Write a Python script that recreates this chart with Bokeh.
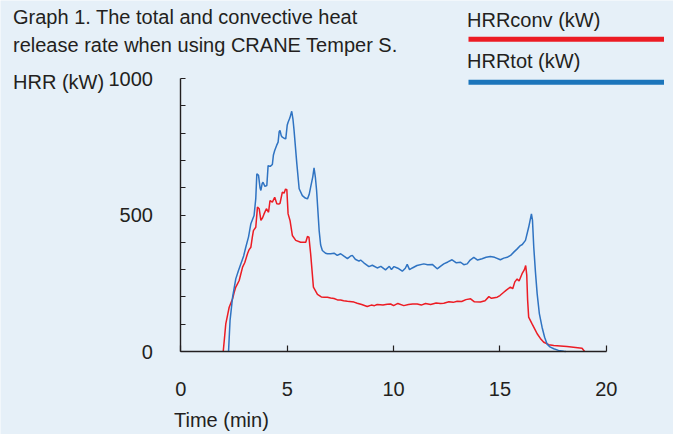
from bokeh.plotting import figure
from bokeh.models import FixedTicker, Label, Arrow
from bokeh.embed import file_html
from bokeh.resources import INLINE

# ---------------- data ----------------
time_tot = [2.24, 2.31, 2.43, 2.58, 2.70, 2.82, 2.95, 3.05, 3.18, 3.29, 3.44, 3.52, 3.57, 3.65, 3.72,
            3.76, 3.82, 3.86, 3.95, 4.04, 4.10, 4.20, 4.30, 4.35, 4.41, 4.50, 4.57, 4.62, 4.66, 4.72,
            4.77, 4.88, 4.93, 5.00, 5.04, 5.12, 5.21, 5.27, 5.32, 5.45, 5.56, 5.71, 5.85, 5.95, 6.03,
            6.10, 6.20, 6.26, 6.32, 6.38, 6.50, 6.57, 6.65, 6.80, 6.89, 7.04, 7.20, 7.35, 7.51, 7.65,
            7.83, 7.98, 8.06, 8.20, 8.37, 8.45, 8.60, 8.84, 9.00, 9.23, 9.40, 9.62, 9.80, 9.90, 10.02,
            10.20, 10.41, 10.55, 10.64, 10.75, 10.88, 11.10, 11.42, 11.60, 11.82, 12.05, 12.20, 12.36,
            12.55, 12.75, 12.95, 13.15, 13.30, 13.46, 13.60, 13.77, 13.95, 14.16, 14.35, 14.55, 14.75,
            15.02, 15.18, 15.34, 15.50, 15.65, 15.80, 15.96, 16.05, 16.20, 16.35, 16.48, 16.53, 16.59,
            16.67, 16.75, 16.85, 16.98, 17.10, 17.21, 17.35, 17.53, 17.75, 18.00, 18.10]
hrr_tot = [0, 113, 199, 266, 295, 321, 350, 382, 420, 468, 498, 560, 651, 645, 600,
           590, 615, 620, 605, 608, 681, 678, 685, 720, 736, 755, 767, 805, 810, 790,
           785, 780, 779, 830, 840, 855, 880, 850, 810, 688, 596, 571, 562, 559, 575,
           602, 640, 673, 640, 590, 443, 390, 370, 360, 358, 358, 360, 352, 358, 350,
           340, 350, 352, 338, 331, 335, 325, 311, 316, 306, 312, 299, 312, 300, 311,
           305, 294, 305, 319, 300, 306, 315, 321, 318, 319, 303, 312, 321,
           328, 336, 325, 327, 318, 321, 335, 345, 335, 340, 345, 348, 345,
           336, 342, 345, 352, 364, 375, 388, 392, 407, 455, 504, 480, 382,
           290, 211, 140, 89, 52, 28, 17, 10, 4, 1, 0]

time_conv = [1.99, 2.05, 2.11, 2.27, 2.43, 2.50, 2.58, 2.66, 2.74, 2.82, 2.90, 3.00, 3.13, 3.20, 3.29,
             3.36, 3.41, 3.52, 3.60, 3.68, 3.76, 3.84, 3.91, 4.02, 4.12, 4.19, 4.30, 4.41, 4.51, 4.60,
             4.66, 4.77, 4.85, 4.92, 4.98, 5.04, 5.13, 5.24, 5.40, 5.63, 5.87, 5.95, 6.02, 6.10, 6.23,
             6.42, 6.60, 6.73, 6.89, 7.04, 7.20, 7.36, 7.51, 7.65, 7.83, 8.14, 8.29, 8.50, 8.76, 8.95,
             9.10, 9.23, 9.50, 9.70, 9.86, 10.00, 10.20, 10.48, 10.70, 10.90, 11.11, 11.30, 11.50, 11.74,
             12.00, 12.20, 12.36, 12.60, 12.80, 12.99, 13.20, 13.40, 13.62, 13.80, 14.08, 14.30, 14.48,
             14.60, 14.87, 15.00, 15.18, 15.30, 15.49, 15.60, 15.70, 15.81, 15.90, 16.04, 16.15, 16.21,
             16.26, 16.30, 16.35, 16.51, 16.62, 16.75, 16.90, 17.06, 17.30, 17.53, 18.15, 18.86, 18.98]
hrr_conv = [0, 50, 101, 162, 193, 215, 236, 248, 260, 285, 309, 325, 358, 372, 382,
            420, 443, 455, 529, 523, 480, 490, 504, 523, 510, 553, 547, 565, 541, 540,
            543, 584, 580, 595, 593, 504, 480, 425, 407, 400, 400, 421, 419, 358, 236,
            209, 200, 199, 199, 196, 194, 189, 189, 186, 184, 181, 177, 172, 165, 170,
            168, 172, 170, 173, 174, 168, 176, 168, 172, 174, 174, 170, 176, 172,
            178, 176, 177, 182, 180, 184, 183, 190, 193, 182, 181, 186, 201,
            195, 199, 205, 217, 225, 236, 230, 255, 266, 258, 285, 300, 315,
            280, 190, 126, 101, 85, 65, 48, 34, 25, 22, 18, 12, 0]

x_ticks = [0, 5, 10, 15, 20]
y_ticks = [0, 500, 1000]
y_minor_ticks = [100, 200, 300, 400, 600, 700, 800, 900]

title_lines = ["Graph 1. The total and convective heat",
               "release rate when using CRANE Temper S."]
y_title = "HRR (kW)"
x_title = "Time (min)"
series_names = ["HRRconv (kW)", "HRRtot (kW)"]

# ---------------- style / layout ----------------
BG = "#e6f0f8"
INK = "#231f20"
RED = "#ec1c24"
BLUE = "#2f73c2"
BLUE_LEG = "#1b75bb"
FONT = "Liberation Sans"
FS = "20px"
BASE_SHIFT = 7.5   # compensation for label baseline rendering

W, H = 673, 434
# pixel position of data origin and pixel scale
OX, SX = 180.4, 21.27      # px of t=0, px per minute
OY, SY = 351.0, 0.273      # px of HRR=0, px per kW


def dx(px):
    return (px - OX) / SX


def dy(py):
    return (OY - py) / SY


p = figure(width=W, height=H, x_range=(dx(0), dx(W)), y_range=(dy(H), dy(0)),
           output_backend="svg", toolbar_location=None,
           min_border_left=0, min_border_right=0,
           min_border_top=0, min_border_bottom=0)
p.background_fill_color = BG
p.border_fill_color = BG
p.outline_line_color = None
p.xgrid.visible = False
p.ygrid.visible = False

p.xaxis.fixed_location = 0
p.yaxis.fixed_location = 0
p.xaxis.bounds = (x_ticks[0], x_ticks[-1])
p.yaxis.bounds = (y_ticks[0], y_ticks[-1])
p.xaxis.ticker = FixedTicker(ticks=x_ticks)
p.yaxis.ticker = FixedTicker(ticks=y_ticks, minor_ticks=y_minor_ticks)
for ax in (p.xaxis, p.yaxis):
    ax.axis_line_color = INK
    ax.axis_line_width = 1.4
    ax.major_tick_line_color = INK
    ax.major_tick_line_width = 1.2
    ax.major_tick_out = 0
    ax.major_label_text_font = FONT
    ax.major_label_text_font_size = FS
    ax.major_label_text_color = INK
p.xaxis.major_tick_in = 6
p.xaxis.minor_tick_line_color = None
p.xaxis.major_label_standoff = 30
p.yaxis.major_tick_in = 5
p.yaxis.minor_tick_in = 5
p.yaxis.minor_tick_out = 0
p.yaxis.minor_tick_line_color = INK
p.yaxis.minor_tick_line_width = 1.2
p.yaxis.major_label_standoff = 28

p.line(time_conv, hrr_conv, line_color=RED, line_width=1.5)
p.line(time_tot, hrr_tot, line_color=BLUE, line_width=1.5)


def add_text(text, px, py):
    p.add_layout(Label(x=dx(px), y=dy(py - BASE_SHIFT), text=text, text_font=FONT,
                       text_font_size=FS, text_color=INK,
                       text_align="left", text_baseline="alphabetic"))


add_text(title_lines[0], 12.5, 24)
add_text(title_lines[1], 12.5, 51.7)
add_text(y_title, 12.5, 89)
add_text(x_title, 173.5, 426.5)

# legend (label above a thick line)
add_text(series_names[0], 466.5, 26.7)
add_text(series_names[1], 466.5, 68.3)
for yc, col in ((38.8, RED), (81.7, BLUE_LEG)):
    p.add_layout(Arrow(end=None, x_start=dx(468), y_start=dy(yc),
                       x_end=dx(663.5), y_end=dy(yc),
                       line_color=col, line_width=5))

open("out.html", "w").write(file_html(p, INLINE))
